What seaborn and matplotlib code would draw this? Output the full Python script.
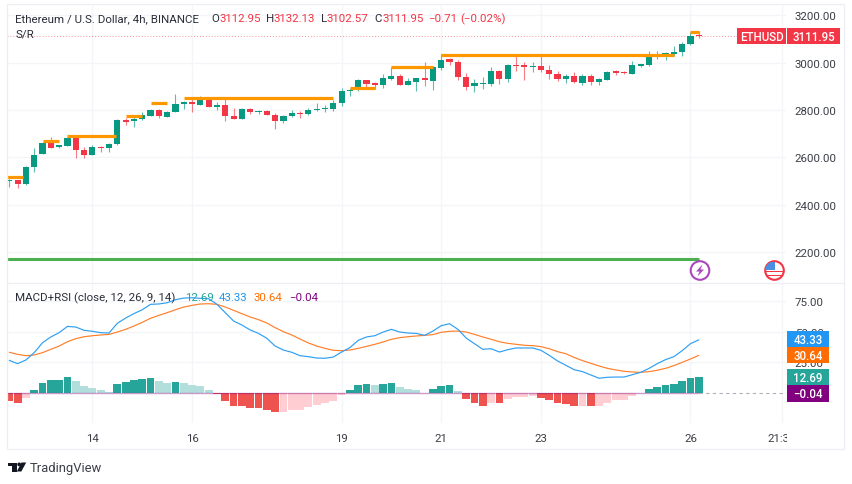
import numpy as np
import pandas as pd
import seaborn as sns
import matplotlib
matplotlib.use("Agg")
import matplotlib.pyplot as plt
from matplotlib.patches import Circle, Rectangle, Polygon
from matplotlib.transforms import Bbox

# ---------- data ----------
opens = [2500,2503,2486,2558,2614,2662,2642,2649,2683,2632,2611,2644,2639,2655,2756,2752,2760,2774,2801,2772,
         2793,2825,2833,2822,2849,2814,2823,2774,2763,2804,2793,2795,2780,2752,2774,2788,2781,2801,2804,2805,
         2828,2878,2883,2925,2913,2905,2932,2942,2905,2919,2933,2922,2977,3015,3004,2939,2899,2911,2911,2966,
         2932,2991,2988,2981,2984,2967,2951,2929,2942,2914,2944,2919,2926,2963,2961,2953,2985,2989,3025,3026,
         3037,3043,3077,3112.95]
closes = [2504,2489,2559,2610,2660,2641,2651,2683,2631,2611,2642,2641,2656,2756,2749,2763,2777,2801,2773,2793,
          2825,2833,2825,2846,2814,2822,2776,2763,2805,2793,2795,2780,2752,2776,2786,2783,2798,2805,2808,2829,
          2880,2885,2926,2911,2906,2933,2944,2905,2921,2933,2925,2982,3012,3002,2937,2897,2912,2914,2966,2932,
          2990,2987,2982,2984,2967,2951,2932,2942,2916,2944,2918,2930,2961,2958,2954,2988,2992,3026,3029,3040,
          3043,3079,3110,3111.95]
highs = [2508,2506,2565,2639,2663,2684,2653,2686,2686,2642,2652,2648,2659,2760,2764,2771,2790,2804,2804,2795,
         2867,2839,2846,2857,2852,2835,2852,2807,2809,2807,2800,2798,2788,2779,2801,2797,2807,2828,2821,2843,
         2892,2894,2929,2928,2919,2951,2980,2953,2933,2936,3001,2987,3036,3018,3009,2956,2930,2937,2981,2968,
         2994,3033,3004,3001,3033,2989,2966,2953,2961,2950,2953,2936,2964,2967,2966,3005,2995,3048,3048,3043,
         3071,3085,3127,3132.13]
lows = [2476,2472,2485,2539,2613,2638,2641,2648,2596,2596,2610,2624,2624,2653,2736,2729,2757,2773,2765,2770,
        2793,2805,2790,2821,2812,2798,2752,2762,2762,2783,2781,2777,2721,2743,2772,2764,2779,2797,2791,2795,
        2818,2857,2881,2891,2888,2891,2926,2904,2904,2878,2901,2884,2967,2989,2928,2885,2877,2888,2899,2908,
        2919,2964,2928,2961,2961,2930,2921,2914,2915,2905,2905,2907,2925,2947,2951,2951,2980,2987,3015,3009,
        3026,3029,3075,3102.57]

sr_start = [-0.25, 4, 7, 14, 17, 21, 41, 46, 52, 82]
sr_end = [1.7, 6, 12.8, 16, 19, 39, 44, 51, 80, 83]
sr_level = [2518, 2667, 2690, 2773, 2828, 2851, 2891, 2982, 3033, 3127]
support_level = 2171

hist = [-6.5,-7.9,-4.1,2.2,8.2,10.3,10.9,13,9.8,5.7,4.3,2.2,1.1,7.1,9.2,10.9,11.4,12,9.8,8.2,
        8.7,8.2,6.2,5.7,2.2,-0.6,-6.2,-10.6,-10.9,-12,-12.1,-13.6,-15.8,-15.6,-14.1,-13.6,-11.7,-9.8,-8.4,-6.2,
        -1.4,2.2,6.2,7.3,6.8,7.3,7.9,4.6,3,2.2,0.3,3,5.7,6.2,1.4,-5.2,-8.4,-10.6,-7.9,-8.4,
        -5.2,-3.5,-3.3,-2.4,-3.8,-5.7,-8.4,-8.7,-10.9,-10.3,-10.9,-10.3,-7.9,-5.7,-5.4,-2.2,-0.2,3.3,4.9,6.5,
        7.1,9.5,12,12.69]
rsi = [26.6,23.9,26.9,32.9,41,45.7,49.2,54.3,53.8,51.1,50.3,49.2,48.9,56.8,61.1,64.7,67.9,72.3,72.6,73.6,
       76.1,77.4,77.7,77.2,76.9,72.3,65.5,58.7,55.4,51.4,48.6,44.6,38.3,35,33.2,30.4,29.6,28.5,28.3,29.3,
       33.4,37,42.9,45.7,46.7,49.7,51.9,49.7,48.9,48.6,47,50.5,54.9,56.5,51.9,44.8,40.2,35.6,36.1,33.4,
       35.3,36.7,36.7,36.7,34.8,30.7,26.1,22.6,19,17.4,14.7,12,12.8,13,13,14.9,16.8,20,23.9,27.2,
       29.6,34.5,40.2,43.33]
rsi_ma = [33.2,31.5,30.4,31,32.9,35.6,38.3,41.8,44.3,45.9,46.7,47.3,47.8,49.7,51.9,54.6,57.6,60.9,63.3,65.5,
          67.9,70.1,71.5,72.6,72.8,72.3,70.1,67.4,64.7,62,59.8,57.1,53.3,50,47.3,44,40.8,38.3,36.4,34.8,
          34.5,35,36.4,38,39.7,41.6,43.8,45.1,45.9,46.5,47,47.6,49.5,50.3,50.5,49.7,47.8,45.7,43.8,41.8,
          40.5,39.7,38.9,38.6,37.8,36.1,33.7,32,29,26.4,24.2,22,20.1,18.8,17.7,17.1,16.8,17.4,18.5,20.1,
          22.3,25,27.7,30.64]

price_ticks = [2200, 2400, 2600, 2800, 3000, 3200]
rsi_ticks = [25, 50, 75]
day_ticks = [10, 22, 40, 52, 64, 82, 93]
day_labels = ["14", "16", "19", "21", "23", "26", "21:30"]

# ---------- styling ----------
W, H = 852, 485
UP, DOWN = "#089981", "#F23645"
GRID = "#F4F5F9"
FRAME = "#ECEEF4"
INK = "#2a2e39"
TICK = "#3c3f47"
FS = 8.25
sns.set_theme(style="white")
plt.rcParams["font.family"] = ["Roboto", "DejaVu Sans"]

fig = plt.figure(figsize=(W / 100, H / 100), dpi=100, facecolor="white")


def axes_px(x0, y0, x1, y1, **kw):
    return fig.add_axes([x0 / W, 1 - y1 / H, (x1 - x0) / W, (y1 - y0) / H], **kw)


ax = axes_px(7, 5, 786, 284)
ax2 = axes_px(7, 285, 786, 424)
xlim = (-0.277, 93.5)

frame = pd.DataFrame({"bar": np.arange(len(opens)), "open": opens, "close": closes,
                      "high": highs, "low": lows, "hist": hist, "rsi": rsi, "rsi_ma": rsi_ma})

# ---------- price panel ----------
frame["color"] = np.where(frame["close"] >= frame["open"], UP, DOWN)
ax.vlines(frame["bar"], frame["low"], frame["high"], colors=frame["color"], lw=0.8, alpha=0.65, zorder=3)
ax.bar(frame["bar"], (frame["close"] - frame["open"]).abs().clip(lower=3),
       bottom=frame[["open", "close"]].min(axis=1), width=0.74, color=frame["color"], zorder=4, linewidth=0)
ax.hlines(sr_level, sr_start, sr_end, colors="#FF9800", lw=2.3, zorder=5)
ax.hlines(support_level, -0.277, 83, colors="#4CAF50", lw=2.2, zorder=5)
ax.axhline(closes[-1], color=DOWN, lw=0.7, ls=(0, (1, 2)), alpha=0.55, zorder=2)
ax.set_xlim(*xlim)
ax.set_ylim(2070, 3247)
ax.set_yticks(price_ticks)
ax.set_yticklabels([f"{v:.2f}" for v in price_ticks])
ax.set_xticks(day_ticks)
ax.tick_params(axis="x", length=0, labelbottom=False)

# ---------- indicator panel ----------
prev = frame["hist"].shift(1)
rising = frame["hist"] > prev
shade = []
for v, r, p in zip(frame["hist"], rising, prev):
    if v >= 0:
        shade.append("up_strong" if r or np.isnan(p) else "up_weak")
    else:
        shade.append("down_strong" if (not r) or np.isnan(p) else "down_weak")
frame["shade"] = shade
sns.barplot(data=frame, x="bar", y="hist", hue="shade", native_scale=True, dodge=False, width=0.94,
            palette={"up_strong": "#26A69A", "up_weak": "#B2DFDB", "down_strong": "#EF5350", "down_weak": "#FFCDD2"},
            saturation=1, legend=False, ax=ax2, zorder=3, linewidth=0)
sns.lineplot(data=frame, x="bar", y="rsi_ma", color="#FF7F2A", lw=0.85, ax=ax2, zorder=4, legend=False)
sns.lineplot(data=frame, x="bar", y="rsi", color="#2E9FF3", lw=0.85, ax=ax2, zorder=5, legend=False)
ax2.hlines(0, -0.277, 83, colors="#800080", lw=1, alpha=0.4, zorder=6)
ax2.hlines(0, 83, xlim[1], colors="#9a9ea8", lw=0.8, ls=(0, (3, 3)), alpha=0.8, zorder=2)
ax2.set_xlim(*xlim)
ax2.set_ylim(-24.5, 88.9)
ax2.set_yticks(rsi_ticks)
ax2.set_yticklabels([f"{v:.2f}" for v in rsi_ticks])
ax2.set_xticks(day_ticks)
ax2.set_xticklabels(day_labels)
ax2.set_xlabel("")
ax2.set_ylabel("")

for a in (ax, ax2):
    a.set_axisbelow(True)
    a.grid(True, color=GRID, lw=0.9)
    a.patch.set_alpha(0)
    for s in a.spines.values():
        s.set_visible(False)
    a.yaxis.tick_right()
    a.tick_params(axis="y", length=0, pad=6.2, labelsize=FS, labelcolor=TICK)
ax2.tick_params(axis="x", length=0, pad=7, labelsize=FS, labelcolor=TICK)
fig.canvas.draw()
clip = Bbox([[0, 0], [787, H]])
for lab in ax2.get_xticklabels():
    lab.set_clip_on(True)
    lab.set_clip_box(clip)

# ---------- decoration layer in pixel coordinates ----------
ov = fig.add_axes([0, 0, 1, 1], zorder=20)
ov.set_xlim(0, W)
ov.set_ylim(H, 0)
ov.axis("off")

for x0, y0, x1, y1 in [(7, 5, 844, 5), (7, 5, 7, 450), (844, 5, 844, 450), (7, 450, 844, 450), (7, 284, 844, 284)]:
    ov.plot([x0, x1], [y0, y1], color=FRAME, lw=0.9, solid_capstyle="butt")


def T(x, y, s, color=TICK, size=FS, **kw):
    return ov.text(x, y, s, color=color, fontsize=size, va="center", ha=kw.pop("ha", "left"), **kw)


T(15, 19, "Ethereum / U.S. Dollar, 4h, BINANCE", color=INK)
for x, s, c in [(211, "O", INK), (219, "3112.95", DOWN), (266, "H", INK), (274, "3132.13", DOWN),
                (320.7, "L", INK), (326.7, "3102.57", DOWN), (374, "C", INK), (382.5, "3111.95", DOWN),
                (428, "\u22120.71", DOWN), (460, "(\u22120.02%)", DOWN)]:
    T(x, 19, s, color=c)
T(15, 35, "S/R", color=INK)
T(15, 298.5, "MACD+RSI (close, 12, 26, 9, 14)", color=INK)
for x, s, c in [(185, "12.69", "#26A69A"), (219, "43.33", "#2196F3"), (254, "30.64", "#FF6D00"), (289, "\u22120.04", "#800080")]:
    T(x, 298.5, s, color=c)


def tag(x0, y0, x1, y1, s, color):
    ov.add_patch(Rectangle((x0, y0), x1 - x0, y1 - y0, color=color, lw=0))
    T((x0 + x1) / 2, (y0 + y1) / 2 + 0.3, s, color="white", size=8.3, ha="center", fontweight="medium")


tag(737, 29, 786.4, 45, "ETHUSD", DOWN)
tag(787, 29, 840, 45, "3111.95", DOWN)
tag(787, 331.7, 828.5, 347.8, "43.33", "#2196F3")
tag(787, 347.8, 828.5, 364, "30.64", "#FF6D00")
tag(787, 370, 828.5, 386.2, "12.69", "#26A69A")
tag(787, 386.2, 828.5, 403, "\u22120.04", "#800080")

# event markers
ov.add_patch(Circle((700, 271.5), 9.3, fc="white", ec="#AB47BC", lw=1.5))
ov.add_patch(Polygon([(702.5, 265.5), (696, 272.5), (699.5, 272.5), (697.5, 277.5), (704, 270.5), (700.5, 270.5)],
                     color="#AB47BC", lw=0))
flag_bg = Circle((774.5, 271.5), 9.3, fc="white", ec="#F23645", lw=1.5)
ov.add_patch(flag_bg)
for y0, h in [(271.5, 1.8), (275.5, 1.8)]:
    r = Rectangle((764, y0), 21, h, color="#F23645", lw=0)
    ov.add_patch(r)
    r.set_clip_path(flag_bg)
canton = Rectangle((765, 263), 9.5, 8, color="#4A90E2", lw=0)
ov.add_patch(canton)
canton.set_clip_path(flag_bg)

# brand mark
LOGO = "#131722"
ov.add_patch(Polygon([(7.5, 463.5), (16.5, 463.5), (16.5, 472.5), (12, 472.5), (12, 467), (7.5, 467)], color=LOGO, lw=0))
ov.add_patch(Circle((19.2, 465.4), 1.9, color=LOGO, lw=0))
ov.add_patch(Polygon([(21.5, 463.5), (26.2, 463.5), (21.3, 472.5), (16.8, 472.5)], color=LOGO, lw=0))
T(30, 469, "TradingView", color="#3c3f47", size=9.4)

fig.savefig("out.png", dpi=100, facecolor="white")
